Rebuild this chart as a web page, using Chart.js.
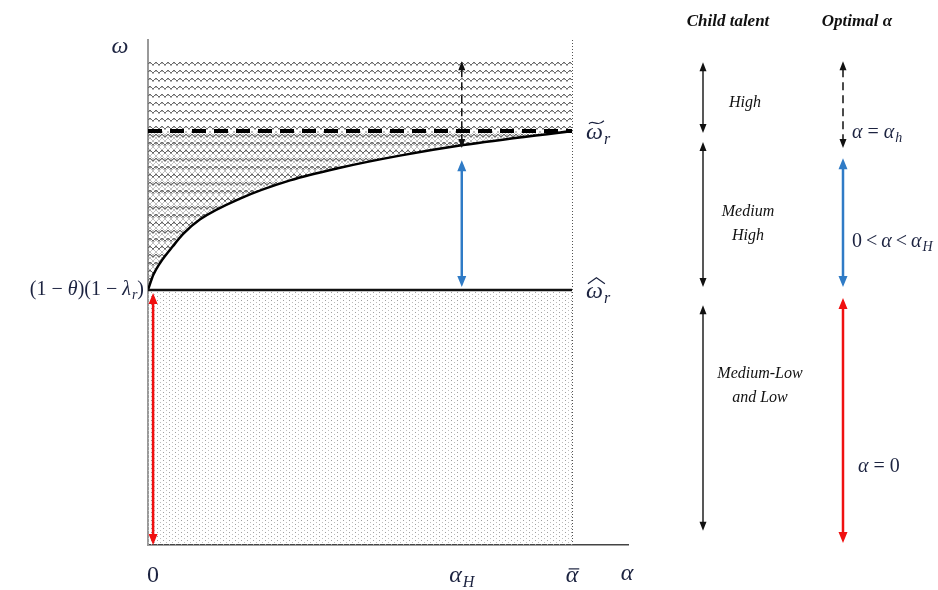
<!DOCTYPE html>
<html>
<head>
<meta charset="utf-8">
<script src="https://cdn.jsdelivr.net/npm/chart.js@4.4.1/dist/chart.umd.min.js"></script>
<style>
html, body { margin: 0; padding: 0; background: #fff; }
#wrap { width: 938px; height: 590px; }
</style>
</head>
<body>
<div id="wrap"><canvas id="c" width="938" height="590"></canvas></div>
<script>
// alpha axis
var alphaH = 0.74;
var alphaBar = 1.0;
var alphaMax = 1.132;
var alphaTicks = [0, alphaH, alphaBar];

// omega axis
var omegaHat = 0.505;
var omegaTilde = 0.82;
var omegaTop = 0.96;
var omegaMax = 1.0;

// threshold curve omega(alpha), rises from omegaHat to omegaTilde
var curveAlpha = [0, 0.0126, 0.028, 0.059, 0.083, 0.123, 0.217, 0.335, 0.453, 0.594, 0.743, 1.0];
var curveOmega = [0.505, 0.535, 0.558, 0.592, 0.616, 0.645, 0.686, 0.722, 0.747, 0.771, 0.792, 0.820];

// arrows inside the diagram: [alpha, omega top, omega bottom]
var redArrow = [0.012, 0.499, 0.0];
var blueArrow = [alphaH, 0.762, 0.511];
var dashArrow = [alphaH, 0.958, 0.786];

// right panel: child talent bands
var talentNames = [["High"], ["Medium", "High"], ["Medium-Low", "and Low"]];
var talentTop = [0.956, 0.798, 0.475];
var talentBottom = [0.816, 0.511, 0.028];
var talentLabelAt = [0.875, 0.636, 0.315];

// right panel: optimal alpha for each band
var optimalTop = [0.958, 0.766, 0.489];
var optimalBottom = [0.786, 0.511, 0.004];
var optimalLabelAt = [0.818, 0.602, 0.156];
var optimalLabels = [
	[["α", "i"], [" = ", "n"], ["α", "i"], ["h", "s"]],
	[["0\u2009<\u2009", "n"], ["α", "i"], ["\u2009<\u2009", "n"], ["α", "i"], ["H", "s"]],
	[["α", "i"], [" = 0", "n"]]
];

var INK = "#1c2340";
var BLUE = "#2f7bc6";
var RED = "#f01010";
var SERIF = '"Liberation Serif", "DejaVu Serif", serif';

function makePattern(w, h, draw, dy) {
	var c = document.createElement("canvas");
	c.width = w; c.height = h;
	var g = c.getContext("2d");
	draw(g);
	var p = g.createPattern(c, "repeat");
	if (dy && p.setTransform) p.setTransform(new DOMMatrix([1, 0, 0, 1, 0, dy]));
	return p;
}

// rows of little zigzags, pixel by pixel so they stay crisp
var wavePattern = makePattern(6, 8, function(g) {
	var dark = [[0, 2], [1, 3], [2, 4], [3, 4], [4, 3], [5, 2]];
	g.fillStyle = "#6a6a6a";
	dark.forEach(function(p) { g.fillRect(p[0], p[1], 1, 1); });
	g.fillStyle = "#b8b8b8";
	[[0, 3], [5, 3], [2, 5], [3, 5]].forEach(function(p) { g.fillRect(p[0], p[1], 1, 1); });
}, -4);
// diamond crosshatch
var hatchPattern = makePattern(6, 6, function(g) {
	g.strokeStyle = "rgba(80,80,80,0.4)";
	g.lineWidth = 0.9;
	g.beginPath();
	g.moveTo(0, 0); g.lineTo(6, 6);
	g.moveTo(6, 0); g.lineTo(0, 6);
	g.stroke();
});
// fine stipple
var dotPattern = makePattern(6, 4, function(g) {
	g.fillStyle = "#a0a0a0";
	g.fillRect(1, 0, 1, 1);
	g.fillStyle = "#bdbdbd";
	g.fillRect(4, 2, 1, 1);
});

function pts(xs, ys) {
	return xs.map(function(x, i) { return {x: x, y: Array.isArray(ys) ? ys[i] : ys}; });
}

// draws a run list: [text, kind] with kind n(ormal) i(talic) s(ubscript) tilde hat bar
function drawRuns(ctx, runs, x, y, size, align, color) {
	function fontFor(k) {
		if (k === "s") return "italic " + Math.round(size * 0.68) + "px " + SERIF;
		if (k === "n") return size + "px " + SERIF;
		return "italic " + size + "px " + SERIF;
	}
	var widths = runs.map(function(r) {
		ctx.font = fontFor(r[1]);
		return ctx.measureText(r[0]).width + (r[1] === "s" ? 1 : 0);
	});
	var total = widths.reduce(function(a, b) { return a + b; }, 0);
	var cx = align === "right" ? x - total : align === "center" ? x - total / 2 : x;
	var by = y + size * 0.3;
	ctx.save();
	ctx.textAlign = "left";
	ctx.textBaseline = "alphabetic";
	ctx.fillStyle = color;
	ctx.strokeStyle = color;
	runs.forEach(function(r, i) {
		var k = r[1], w = widths[i];
		ctx.font = fontFor(k);
		if (k === "s") ctx.fillText(r[0], cx + 1, by + size * 0.22);
		else ctx.fillText(r[0], cx, by);
		var ax = cx + size * 0.08, ay = by - size * 0.68;
		ctx.lineWidth = 1.2;
		if (k === "tilde") {
			ctx.beginPath();
			ctx.moveTo(ax + 1, ay + 1);
			ctx.bezierCurveTo(ax + w * 0.3, ay - 4, ax + w * 0.55, ay + 5, ax + w - 1, ay - 2);
			ctx.stroke();
		} else if (k === "hat") {
			ctx.beginPath();
			ctx.moveTo(ax, ay + 2);
			ctx.lineTo(ax + w / 2, ay - 4);
			ctx.lineTo(ax + w, ay + 2);
			ctx.stroke();
		} else if (k === "bar") {
			ctx.beginPath();
			ctx.moveTo(ax + 1, ay + 3);
			ctx.lineTo(ax + w - 1, ay + 3);
			ctx.stroke();
		}
		cx += w;
	});
	ctx.restore();
}

function vArrow(ctx, x, yTop, yBot, color, width, dash, head) {
	ctx.save();
	ctx.strokeStyle = color;
	ctx.fillStyle = color;
	ctx.lineWidth = width;
	ctx.setLineDash(dash || []);
	ctx.beginPath();
	ctx.moveTo(x, yTop + head[0] - 1);
	ctx.lineTo(x, yBot - head[0] + 1);
	ctx.stroke();
	ctx.setLineDash([]);
	ctx.beginPath();
	ctx.moveTo(x, yTop); ctx.lineTo(x - head[1], yTop + head[0]); ctx.lineTo(x + head[1], yTop + head[0]);
	ctx.closePath();
	ctx.moveTo(x, yBot); ctx.lineTo(x - head[1], yBot - head[0]); ctx.lineTo(x + head[1], yBot - head[0]);
	ctx.closePath();
	ctx.fill();
	ctx.restore();
}

var panelX = {talent: 703, optimal: 843, talentText: [745, 748, 760], optimalText: 852};

var annotations = {
	id: "annotations",
	afterDraw: function(chart) {
		var ctx = chart.ctx, xs = chart.scales.x, ys = chart.scales.y, area = chart.chartArea;
		var X = function(v) { return xs.getPixelForValue(v); };
		var Y = function(v) { return ys.getPixelForValue(v); };

		// dotted right edge at alpha bar
		ctx.save();
		ctx.strokeStyle = "#555";
		ctx.lineWidth = 1;
		ctx.setLineDash([1, 2]);
		ctx.beginPath();
		ctx.moveTo(Math.round(X(alphaBar)) + 0.5, Y(omegaMax));
		ctx.lineTo(Math.round(X(alphaBar)) + 0.5, Y(0));
		ctx.stroke();
		ctx.restore();

		vArrow(ctx, X(redArrow[0]), Y(redArrow[1]), Y(redArrow[2]), RED, 2.5, null, [11, 4.5]);
		vArrow(ctx, X(blueArrow[0]), Y(blueArrow[1]), Y(blueArrow[2]), BLUE, 2.5, null, [11, 4.5]);
		vArrow(ctx, X(dashArrow[0]), Y(dashArrow[1]), Y(dashArrow[2]), "#111", 1.5, [8, 5], [9, 3.5]);

		// axis labels
		drawRuns(ctx, [["ω", "i"]], area.left - 28, Y(omegaMax) + 6, 24, "center", INK);
		drawRuns(ctx, [["(1 − ", "n"], ["θ", "i"], [")(1 − ", "n"], ["λ", "i"], ["r", "s"], [")", "n"]],
			area.left - 4, Y(omegaHat) - 1, 20, "right", INK);
		drawRuns(ctx, [["ω", "tilde"], ["r", "s"]], X(alphaBar) + 14, Y(omegaTilde) + 1, 24, "left", INK);
		drawRuns(ctx, [["ω", "hat"], ["r", "s"]], X(alphaBar) + 14, Y(omegaHat) + 1, 24, "left", INK);
		var tickRuns = [[["0", "n"]], [["α", "i"], ["H", "s"]], [["α", "bar"]]];
		alphaTicks.forEach(function(v, i) {
			drawRuns(ctx, tickRuns[i], X(v) + (i === 0 ? 5 : 0), area.bottom + 30, 24, "center", INK);
		});
		drawRuns(ctx, [["α", "i"]], X(alphaMax) - 1, area.bottom + 28, 24, "center", INK);

		// right panel
		ctx.save();
		ctx.fillStyle = "#111";
		ctx.textAlign = "center";
		ctx.textBaseline = "middle";
		ctx.font = "bold italic 17px " + SERIF;
		ctx.fillText("Child talent", 728, 22);
		ctx.fillText("Optimal α", 857, 22);
		ctx.font = "italic 16px " + SERIF;
		talentNames.forEach(function(lines, i) {
			var y0 = Y(talentLabelAt[i]) - (lines.length - 1) * 12;
			lines.forEach(function(t, j) { ctx.fillText(t, panelX.talentText[i], y0 + j * 24); });
			vArrow(ctx, panelX.talent, Y(talentTop[i]), Y(talentBottom[i]), "#111", 1.4, null, [9, 3.5]);
		});
		ctx.restore();

		var optColors = ["#111", BLUE, RED];
		optimalLabels.forEach(function(runs, i) {
			if (i === 0) vArrow(ctx, panelX.optimal, Y(optimalTop[i]), Y(optimalBottom[i]), "#111", 1.5, [8, 5], [9, 3.5]);
			else vArrow(ctx, panelX.optimal, Y(optimalTop[i]), Y(optimalBottom[i]), optColors[i], 2.5, null, [11, 4.5]);
			drawRuns(ctx, runs, panelX.optimalText + (i === 2 ? 6 : 0), Y(optimalLabelAt[i]), 20, "left", INK);
		});
	}
};

var chart = new Chart(document.getElementById("c"), {
	type: "line",
	data: {
		datasets: [
			{ // omega tilde, dashed, crosshatch down to the curve
				data: pts(curveAlpha, omegaTilde),
				borderColor: "#000", borderWidth: 4, borderDash: [14, 8],
				pointRadius: 0, fill: {target: 2}, backgroundColor: hatchPattern
			},
			{ // omega hat, stipple down to zero
				data: pts([0, alphaBar], omegaHat),
				borderColor: "#111", borderWidth: 2.5,
				pointRadius: 0, fill: "origin", backgroundColor: dotPattern
			},
			{ // threshold curve, waves up to the top
				data: pts(curveAlpha, curveOmega),
				borderColor: "#000", borderWidth: 2.5, cubicInterpolationMode: "monotone",
				pointRadius: 0, fill: {target: 3}, backgroundColor: wavePattern
			},
			{
				data: pts(curveAlpha, omegaTop),
				borderWidth: 0, borderColor: "rgba(0,0,0,0)",
				pointRadius: 0, fill: false
			}
		]
	},
	options: {
		responsive: false,
		animation: false,
		events: [],
		layout: {padding: {left: 148, top: 40, right: 310, bottom: 45}},
		plugins: {
			legend: {display: false},
			tooltip: {enabled: false},
			filler: {drawTime: "beforeDatasetsDraw"}
		},
		scales: {
			x: {
				type: "linear", min: 0, max: alphaMax,
				grid: {display: false, drawTicks: false},
				ticks: {display: false},
				border: {display: true, color: "#444", width: 1.5}
			},
			y: {
				type: "linear", min: 0, max: omegaMax,
				grid: {display: false, drawTicks: false},
				ticks: {display: false},
				border: {display: true, color: "#999", width: 2}
			}
		}
	},
	plugins: [annotations]
});
</script>
</body>
</html>
